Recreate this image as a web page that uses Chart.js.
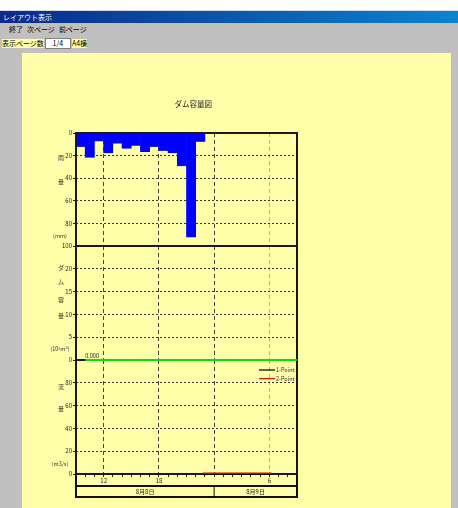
<!DOCTYPE html>
<html lang="ja">
<head>
    <meta charset="UTF-8">
    <title>レイアウト表示</title>
    <script src="https://cdn.jsdelivr.net/npm/chart.js"></script>
    <style>
        body {
            margin: 0;
            width: 458px;
            height: 508px;
            position: relative;
            overflow: hidden;
            background-color: #c0c0c0;
            font-family: "Noto Sans CJK JP", sans-serif;
        }

        .topline {
            position: absolute; left: 0; top: 0;
            width: 458px; height: 10px;
            background-color: #ffffff;
            border-bottom: 1px solid #d8d8d8;
        }

        .titlebar {
            position: absolute; left: 0; top: 11px;
            width: 458px; height: 12px;
            background: linear-gradient(to right, #0a2a8c, #0a84d0);
            color: #ffffff;
            font-size: 7px;
            line-height: 12px;
            padding-left: 3px;
            box-sizing: border-box;
        }

        .menu {
            position: absolute; left: 9px; top: 25px;
            font-size: 7px;
            line-height: 9px;
        }

        .menu span { margin-right: 4px; }

        .pagebar {
            position: absolute; left: 2px; top: 38px;
            height: 11px;
            display: flex;
            align-items: center;
            font-size: 7px;
        }

        .pagebar .lbl { background-color: #ffffaa; line-height: 9px; }

        .pagebar .num {
            background-color: #ffffff;
            border: 1px solid #808080;
            width: 24px; height: 9px;
            line-height: 9px;
            text-align: center;
            margin: 0 1px;
        }

        .page {
            position: absolute; left: 22px; top: 53px;
            width: 429px; height: 455px;
            background-color: #ffffaa;
        }

        canvas { position: absolute; left: 0; top: 0; }
    </style>
</head>
<body>
<div class="topline"></div>
<div class="titlebar">レイアウト表示</div>
<div class="menu"><span>終了</span><span>次ページ</span><span>前ページ</span></div>
<div class="pagebar"><span class="lbl">表示ページ数</span><span class="num">1/4</span><span class="lbl">A4横</span></div>
<div class="page"></div>

<!-- three panels share one time axis; the dam panel sits on top so its 0 line shows -->
<canvas id="rainChart" width="458" height="508"></canvas>
<canvas id="flowChart" width="458" height="508"></canvas>
<canvas id="damChart" width="458" height="508"></canvas>

<script>
    // time is counted in hours from 8/8 0:00
    const axisStart = 9;
    const axisEnd = 33;
    const gridHours = [12, 18, 24, 30];
    const everyHour = [9, 10, 11, 12, 13, 14, 15, 16, 17, 18, 19, 20, 21, 22, 23, 24,
                       25, 26, 27, 28, 29, 30, 31, 32, 33];
    const hourTickValues = [12, 18, 30];
    const hourTickLabels = ['12', '18', '6'];
    const dateLabels = ['8月8日', '8月9日'];

    // 雨量 (mm), hourly from 9:00
    const rainHours = [9, 10, 11, 12, 13, 14, 15, 16, 17, 18, 19, 20, 21, 22];
    const rainfall = [12, 21.5, 7, 17.5, 9, 13.5, 11, 16.5, 12, 15.5, 17.5, 29, 92, 7.5];

    // ダム容量 (10^6 m3)
    const damHours = [10, 11, 12, 13, 14, 15, 16, 17, 18, 19, 20, 21, 22, 23, 24,
                      25, 26, 27, 28, 29, 30, 31, 32, 33];
    const storage = [0, 0, 0, 0, 0, 0, 0, 0, 0, 0, 0, 0, 0, 0, 0,
                     0, 0, 0, 0, 0, 0, 0, 0, 0];

    // 流量 (m3/s)
    const flowHours = [22.75, 24, 26, 28, 30.25];
    const flowPoint1 = [0, 0, 0, 0, 0];
    const flowPoint2 = [0.7, 0.7, 0.7, 0.7, 0.7];

    const rainTicks = [0, 20, 40, 60, 80, 100];
    const damTicks = [0, 5, 10, 15, 20, 25];
    const flowTicks = [0, 20, 40, 60, 80, 100];

    Chart.defaults.font.family = '"Noto Sans CJK JP", sans-serif';
    Chart.defaults.font.size = 6;
    Chart.defaults.color = '#222';
    Chart.defaults.animation = false;
    Chart.defaults.responsive = false;
    Chart.defaults.plugins.legend.display = false;
    Chart.defaults.plugins.tooltip.enabled = false;

    const PLOT_L = 76, PLOT_R = 297, CW = 458, CH = 508, AXW = 20;

    function pad(top, bottom, extra) {
        return { left: PLOT_L - AXW, right: CW - PLOT_R, top: top, bottom: CH - bottom - (extra || 0) };
    }

    function gridColour(v) {
        return v === 30 ? '#b8b590' : '#444';
    }

    // time axis for the upper panels: dashed grid only
    function gridAxis() {
        return {
            type: 'linear', min: axisStart, max: axisEnd, offset: false,
            afterBuildTicks: s => { s.ticks = gridHours.map(v => ({ value: v })); },
            ticks: { display: false },
            grid: { color: c => gridColour(c.tick && c.tick.value), drawTicks: false, offset: false },
            border: { display: false, dash: [4, 3] },
            afterFit: s => { s.height = 0; }
        };
    }

    function valueAxis(ticks, reverse) {
        const lo = ticks[0], hi = ticks[ticks.length - 1];
        return {
            type: 'linear', min: lo, max: hi, reverse: reverse,
            afterBuildTicks: s => { s.ticks = ticks.map(v => ({ value: v })); },
            ticks: {
                padding: 1,
                // the top tick of the lower panels is covered by the panel above
                callback: v => (!reverse && v === hi) ? '' : String(v)
            },
            grid: {
                color: c => (c.tick && (c.tick.value === lo || c.tick.value === hi)) ? 'transparent' : '#333',
                tickColor: '#222', tickLength: 3
            },
            border: { display: false, dash: [2, 2] },
            afterFit: s => { s.width = AXW; }
        };
    }

    const framePlugin = {
        id: 'frame',
        beforeDatasetsDraw(chart, args, opts) { if (!opts.front) drawFrame(chart); },
        afterDatasetsDraw(chart, args, opts) { if (opts.front) drawFrame(chart); }
    };

    function drawFrame(chart) {
        const { ctx, chartArea: a } = chart;
        ctx.save();
        ctx.strokeStyle = '#1a1a1a';
        ctx.lineWidth = 2;
        ctx.strokeRect(a.left, a.top, a.right - a.left, a.bottom - a.top);
        ctx.restore();
    }

    // vertical Japanese axis names and units
    const namePlugin = {
        id: 'names',
        afterDraw(chart, args, opts) {
            const { ctx, chartArea: a } = chart;
            const h = a.bottom - a.top;
            ctx.save();
            ctx.fillStyle = '#333';
            ctx.textAlign = 'center';
            ctx.textBaseline = 'middle';
            ctx.font = '6px "Noto Sans CJK JP"';
            opts.chars.forEach((c, i) => ctx.fillText(c, a.left - 15, a.top + h * opts.at[i]));
            ctx.font = '5.5px "Noto Sans CJK JP"';
            ctx.fillText(opts.unit, a.left - 16, a.top + h * opts.unitAt);
            if (opts.title) {
                ctx.font = '7.5px "Noto Sans CJK JP"';
                ctx.fillStyle = '#222';
                ctx.fillText(opts.title, a.left + (a.right - a.left) * 0.53, a.top - 29);
            }
            ctx.restore();
        }
    };

    new Chart(document.getElementById('rainChart'), {
        type: 'bar',
        data: {
            datasets: [{
                label: '雨量',
                data: rainHours.map((h, i) => ({ x: h + 0.5, y: rainfall[i] })),
                backgroundColor: '#0000ff',
                borderWidth: 0,
                barPercentage: 1,
                categoryPercentage: 1
            }]
        },
        options: {
            layout: { padding: pad(133, 246) },
            plugins: {
                frame: { front: true },
                names: { chars: ['雨', '量'], at: [0.22, 0.43], unit: '(mm)', unitAt: 0.915, title: 'ダム容量図' }
            },
            scales: { x: gridAxis(), y: valueAxis(rainTicks, true) }
        },
        plugins: [framePlugin, namePlugin]
    });

    // value label at the first storage point
    const damLabelPlugin = {
        id: 'damLabel',
        afterDatasetsDraw(chart) {
            const { ctx, scales } = chart;
            const px = scales.x.getPixelForValue(damHours[0]);
            const py = scales.y.getPixelForValue(storage[0]);
            ctx.save();
            ctx.fillStyle = '#222';
            ctx.font = '5.5px "Noto Sans CJK JP"';
            ctx.textBaseline = 'alphabetic';
            ctx.fillText(storage[0].toFixed(3), px, py - 2);
            ctx.restore();
        }
    };

    new Chart(document.getElementById('damChart'), {
        type: 'line',
        data: {
            datasets: [{
                label: 'ダム容量',
                data: damHours.map((h, i) => ({ x: h, y: storage[i] })),
                borderColor: '#00e600',
                borderWidth: 2,
                pointRadius: 0,
                clip: false
            }]
        },
        options: {
            layout: { padding: pad(246, 360) },
            plugins: {
                frame: { front: false },
                names: { chars: ['ダ', 'ム', '容', '量'], at: [0.19, 0.31, 0.475, 0.61], unit: '(10⁶m³)', unitAt: 0.905 }
            },
            scales: { x: gridAxis(), y: valueAxis(damTicks, false) }
        },
        plugins: [framePlugin, namePlugin, damLabelPlugin]
    });

    // legend lines in the flow panel, and the hour / date rows under it
    const flowExtras = {
        id: 'flowExtras',
        afterDraw(chart) {
            const { ctx, chartArea: a, scales } = chart;
            ctx.save();
            ctx.font = '5.5px "Noto Sans CJK JP"';
            ctx.textBaseline = 'middle';
            chart.data.datasets.forEach((ds, i) => {
                const y = a.top + 10 + i * 8.7;
                ctx.strokeStyle = ds.borderColor;
                ctx.lineWidth = 1.2;
                ctx.beginPath();
                ctx.moveTo(a.right - 38, y);
                ctx.lineTo(a.right - 22, y);
                ctx.stroke();
                ctx.fillStyle = '#333';
                ctx.fillText(ds.label, a.right - 21, y);
            });

            const d = scales.xd;
            ctx.strokeStyle = '#111';
            ctx.lineWidth = 2;
            ctx.beginPath();
            ctx.moveTo(a.left, a.bottom); ctx.lineTo(a.left, d.bottom);
            ctx.moveTo(a.right, a.bottom); ctx.lineTo(a.right, d.bottom);
            ctx.moveTo(a.left, d.top); ctx.lineTo(a.right, d.top);
            ctx.moveTo(a.left - 1, d.bottom); ctx.lineTo(a.right + 1, d.bottom);
            ctx.stroke();
            const mid = scales.x.getPixelForValue(24);
            ctx.lineWidth = 1;
            ctx.beginPath();
            ctx.moveTo(mid, d.top); ctx.lineTo(mid, d.bottom);
            ctx.stroke();

            // date names centred in each day's span of the date scale
            ctx.fillStyle = '#222';
            ctx.font = '6px "Noto Sans CJK JP"';
            ctx.textAlign = 'center';
            d.ticks.forEach((t, i) => {
                ctx.fillText(dateLabels[i], d.getPixelForValue(t.value), (d.top + d.bottom) / 2 + 0.5);
            });
            ctx.restore();
        }
    };

    new Chart(document.getElementById('flowChart'), {
        type: 'line',
        data: {
            datasets: [{
                label: '1-Point',
                data: flowHours.map((h, i) => ({ x: h, y: flowPoint1[i] })),
                borderColor: '#000000',
                borderWidth: 1.5,
                pointRadius: 0,
                clip: false,
                order: 2
            }, {
                label: '2-Point',
                data: flowHours.map((h, i) => ({ x: h, y: flowPoint2[i] })),
                borderColor: '#e00000',
                borderWidth: 1.5,
                pointRadius: 0,
                clip: false,
                order: 1
            }]
        },
        options: {
            layout: { padding: pad(360, 474, 23) },
            plugins: {
                frame: { front: false },
                names: { chars: ['流', '量'], at: [0.235, 0.43], unit: '(m3/s)', unitAt: 0.915 }
            },
            scales: {
                x: {
                    type: 'linear', min: axisStart, max: axisEnd, offset: false,
                    afterBuildTicks: s => { s.ticks = everyHour.map(v => ({ value: v })); },
                    ticks: {
                        autoSkip: false, maxRotation: 0, padding: 0,
                        callback: v => {
                            const i = hourTickValues.indexOf(v);
                            return i >= 0 ? hourTickLabels[i] : '';
                        }
                    },
                    grid: {
                        color: c => (c.tick && gridHours.includes(c.tick.value)) ? gridColour(c.tick.value) : 'transparent',
                        tickColor: '#222', tickLength: 3, offset: false
                    },
                    border: { display: false, dash: [4, 3] },
                    afterFit: s => { s.height = 12; }
                },
                xd: {
                    type: 'linear', position: 'bottom', min: axisStart, max: axisEnd, offset: false,
                    afterBuildTicks: s => { s.ticks = [(axisStart + 24) / 2, (24 + axisEnd) / 2].map(v => ({ value: v })); },
                    ticks: { display: false },
                    grid: { display: false },
                    border: { display: false },
                    afterFit: s => { s.height = 11; }
                },
                y: valueAxis(flowTicks, false)
            }
        },
        plugins: [framePlugin, namePlugin, flowExtras]
    });
</script>
</body>
</html>
